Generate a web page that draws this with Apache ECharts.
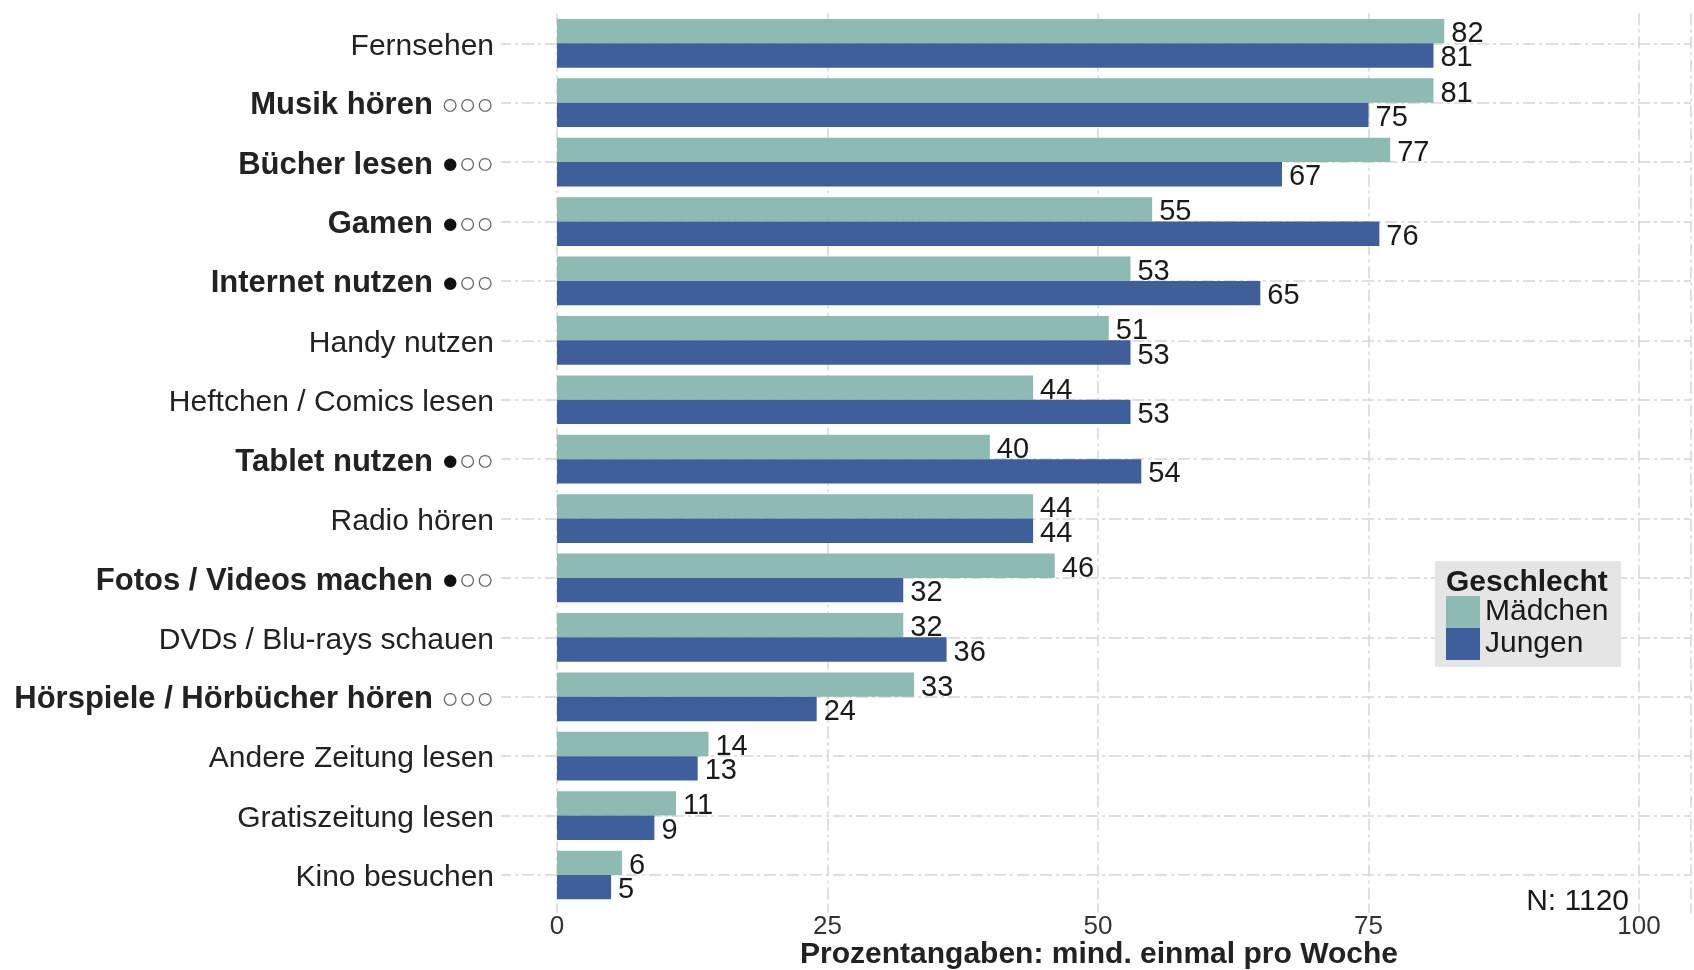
<!DOCTYPE html>
<html>
<head>
<meta charset="utf-8">
<title>Freizeitaktivitäten nach Geschlecht</title>
<script src="https://cdn.jsdelivr.net/npm/echarts@6/dist/echarts.min.js"></script>
<style>
    html, body { margin: 0; padding: 0; background: #fff; }
    #chart { width: 1694px; height: 970px; }
</style>
</head>
<body>
<div id="chart"></div>
<script>
    // Kategorien, von oben nach unten
    var categories = ['Fernsehen', 'Musik hören', 'Bücher lesen', 'Gamen', 'Internet nutzen',
        'Handy nutzen', 'Heftchen / Comics lesen', 'Tablet nutzen', 'Radio hören',
        'Fotos / Videos machen', 'DVDs / Blu-rays schauen', 'Hörspiele / Hörbücher hören',
        'Andere Zeitung lesen', 'Gratiszeitung lesen', 'Kino besuchen'];
    // Kreis-Markierung hinter dem Label ('' = keine, dann normal statt fett)
    var marks = ['', '○○○', '●○○', '●○○', '●○○', '', '', '●○○', '', '●○○', '', '○○○', '', '', ''];
    var maedchen = [82, 81, 77, 55, 53, 51, 44, 40, 44, 46, 32, 33, 14, 11, 6];
    var jungen = [81, 75, 67, 76, 65, 53, 53, 54, 44, 32, 36, 24, 13, 9, 5];
    var xTicks = [0, 25, 50, 75, 100];

    var FONT = '"Liberation Sans", Arial, sans-serif';
    var gridStyle = { color: '#d6d6d6', width: 1.5, type: [12, 4, 3, 4] };

    // Kreise: gefüllter Punkt schwarz, leere Kreise grau
    function markText(m) {
        var out = '';
        for (var i = 0; i < m.length; i++) {
            out += m[i] === '●' ? '{d|●}' : '{o|○}';
        }
        return out;
    }

    var myChart = echarts.init(document.getElementById('chart'));
    var option = {
        animation: false,
        textStyle: { fontFamily: FONT },
        grid: { left: 557, right: 0, top: 13.6, bottom: 65.3, containLabel: false },
        legend: {
            data: ['Mädchen', 'Jungen'],
            orient: 'vertical',
            left: 1446,
            top: 596,
            padding: 0,
            itemWidth: 34,
            itemHeight: 32,
            itemGap: 0,
            icon: 'rect',
            z: 12,
            selectedMode: false,
            textStyle: { fontSize: 30, lineHeight: 32, color: '#1a1a1a', fontFamily: FONT }
        },
        graphic: [
            { type: 'rect', left: 1435, top: 561, z: 10, shape: { width: 186, height: 106 }, style: { fill: '#e5e5e5' } },
            { type: 'text', left: 1446, top: 568, z: 11, style: { text: 'Geschlecht', font: 'bold 30px ' + FONT, fill: '#1a1a1a' } },
            { type: 'text', x: 1099, y: 955, z: 11, style: { text: 'Prozentangaben: mind. einmal pro Woche', font: 'bold 30px ' + FONT, fill: '#222', align: 'center', verticalAlign: 'middle' } },
            { type: 'text', x: 1629, y: 902, z: 11, style: { text: 'N: 1120', font: '30px ' + FONT, fill: '#1a1a1a', align: 'right', verticalAlign: 'middle' } }
        ],
        xAxis: {
            type: 'value',
            min: 0,
            max: 104.8,
            interval: 25,
            axisLine: { show: false },
            axisTick: { show: true, length: 8, lineStyle: gridStyle },
            splitLine: { show: true, lineStyle: gridStyle },
            axisLabel: {
                margin: 9,
                fontSize: 26,
                color: '#333',
                formatter: function (v) { return xTicks.indexOf(v) >= 0 ? String(v) : ''; }
            }
        },
        yAxis: {
            type: 'category',
            data: categories,
            inverse: true,
            axisLine: { show: false },
            axisTick: { show: true, alignWithLabel: true, length: 56, lineStyle: gridStyle },
            splitLine: { show: true, alignWithLabel: true, lineStyle: gridStyle },
            axisLabel: {
                margin: 63,
                padding: [6, 0, 0, 0],
                formatter: function (value, index) {
                    var m = marks[index];
                    if (!m) return '{n|' + value + '}';
                    return '{b|' + value + ' }' + markText(m);
                },
                rich: {
                    n: { fontSize: 30, color: '#222', fontFamily: FONT },
                    b: { fontSize: 31, color: '#222', fontWeight: 'bold', fontFamily: FONT },
                    d: { fontSize: 29, color: '#111', fontFamily: FONT },
                    o: { fontSize: 29, color: '#666', fontFamily: FONT }
                }
            }
        },
        series: [
            {
                name: 'Mädchen',
                type: 'bar',
                data: maedchen,
                barGap: '0%',
                barCategoryGap: '18%',
                itemStyle: { color: '#8dbab3' },
                label: { show: true, position: 'right', distance: 7, offset: [0, 3], fontSize: 29, color: '#1a1a1a', fontFamily: FONT }
            },
            {
                name: 'Jungen',
                type: 'bar',
                data: jungen,
                barGap: '0%',
                barCategoryGap: '18%',
                itemStyle: { color: '#3f5f9c' },
                label: { show: true, position: 'right', distance: 7, offset: [0, 3], fontSize: 29, color: '#1a1a1a', fontFamily: FONT }
            }
        ]
    };
    myChart.setOption(option);
</script>
</body>
</html>
